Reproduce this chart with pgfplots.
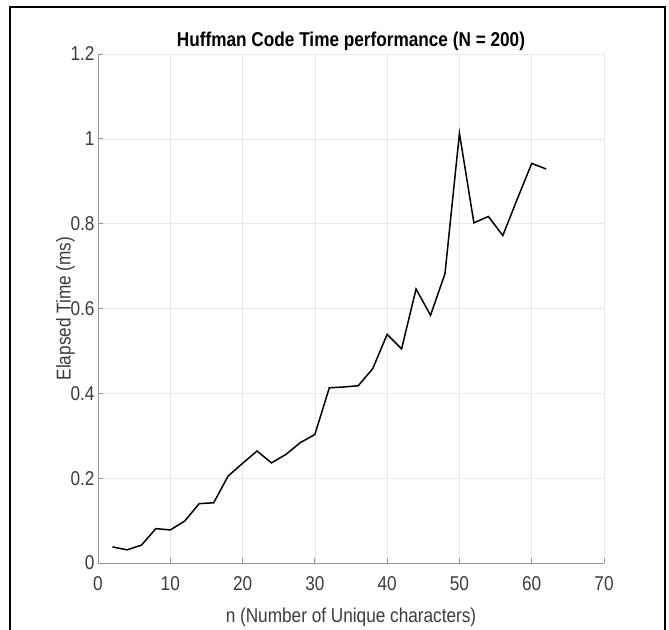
\documentclass[border=0pt]{standalone}
\usepackage{pgfplots}
\pgfplotsset{compat=1.18}
\usepackage{fontspec}
\setmainfont{Liberation Sans}[FakeStretch=0.86]
\definecolor{tickgray}{RGB}{60,60,60}
\definecolor{axgray}{RGB}{150,150,150}
\definecolor{gridgray}{RGB}{232,232,232}
\begin{document}
\begin{tikzpicture}[x=1bp,y=1bp]
\useasboundingbox (0,-630) rectangle (669,0);
\fill[white] (0,-630) rectangle (669,0);
\draw[black,line width=2bp] (10,-640) -- (10,-7) -- (665,-7) -- (665,-640);
\begin{axis}[
  at={(98bp,-563bp)}, anchor=origin,
  scale only axis, width=506bp, height=509bp,
  xmin=0, xmax=70, ymin=0, ymax=1.2,
  xtick={0,10,...,70}, ytick={0,0.2,...,1.2},
  yticklabels={0,0.2,0.4,0.6,0.8,1,1.2},
  axis lines*=left,
  axis line style={axgray, line width=0.8bp, -},
  tick style={axgray, line width=0.8bp},
  tick align=inside, major tick length=5bp,
  grid=major, major grid style={gridgray, line width=0.6bp},
  tick label style={tickgray, font=\fontsize{20bp}{22bp}\selectfont},
  xticklabel style={yshift=-10bp},
  /pgf/number format/assume math mode=true,
  xlabel={n (Number of Unique characters)},
  ylabel={Elapsed Time (ms)},
  label style={tickgray, font=\fontsize{20bp}{22bp}\selectfont},
  xlabel style={yshift=-10bp},
  ylabel style={yshift=-11bp},
  title={Huffman Code Time performance (N = 200)},
  title style={font=\bfseries\fontsize{20bp}{22bp}\selectfont, yshift=-6bp},
  clip=false,
]
\addplot[black, line width=1.5bp] coordinates {
(2,0.038) (4,0.031) (6,0.042) (8,0.081) (10,0.078) (12,0.099)
(14,0.140) (16,0.142) (18,0.205) (20,0.235) (22,0.264) (24,0.236)
(26,0.256) (28,0.284) (30,0.303) (32,0.413) (34,0.415) (36,0.418)
(38,0.458) (40,0.539) (42,0.505) (44,0.646) (46,0.584) (48,0.682)
(50,1.013) (52,0.802) (54,0.817) (56,0.772) (58,0.858) (60,0.942)
(62,0.929)
};
\end{axis}
\end{tikzpicture}
\end{document}
